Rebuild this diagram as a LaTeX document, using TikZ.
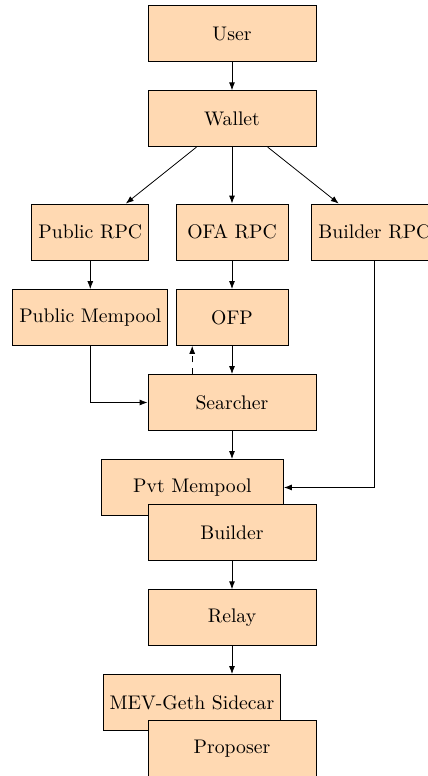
\documentclass[tikz,border=0pt]{standalone}
\usepackage{tikz}
\usetikzlibrary{positioning}
\usetikzlibrary{arrows.meta}
\tikzset{
    mynode/.style = {rectangle, draw=black, align=center, fill=orange!30, minimum width=3cm, minimum height=1cm, text=black},
    mynodes/.style = {rectangle, draw=black, align=center, fill=orange!30, minimum width=2cm, minimum height=1cm, text=black},
    mynodew/.style = {rectangle, draw=black, align=center, fill=orange!30, minimum width=3.25cm, minimum height=1cm, text=black},
    edgen/.style = {-{Latex[length=4pt,width=3pt]}, black},
    edged/.style = {-{Latex[length=4pt,width=3pt]}, black, dashed}, % back to ofp
}

\begin{document}
\begin{tikzpicture}
\path[use as bounding box] (0,0) rectangle (7.636,-13.845);
%
\node[mynode] at (4.139,-0.601) (user) {User};
\node[mynode] at (4.139,-2.118) (wallet) {Wallet};
\node[mynodes] at (1.611,-4.139) (pubrpc) {Public RPC};
\node[mynodes] at (4.139,-4.139) (ofarpc) {OFA RPC};
\node[mynodes] at (6.680,-4.139) (bldrpc) {Builder RPC};
\node[mynodes] at (1.611,-5.664) (pubmem) {Public Mempool};
\node[mynodes] at (4.139,-5.664) (ofp) {OFP};
\node[mynode] at (4.139,-7.181) (searcher) {Searcher};
\node[mynodew] at (3.434,-8.697) (pvtmem) {Pvt Mempool};
\node[mynode] at (4.139,-9.500) (builder) {Builder};
\node[mynode] at (4.139,-11.020) (relay) {Relay};
\node[mynodes] at (3.425,-12.533) (sidecar) {MEV-Geth Sidecar};
\node[mynode] at (4.139,-13.353) (proposer) {Proposer};
%
\draw[edgen] (user) edge (wallet);
\draw[edgen] (wallet) edge (pubrpc);
\draw[edgen] (wallet) edge (ofarpc);
\draw[edgen] (wallet) edge (bldrpc);
\draw[edgen] (pubrpc) edge (pubmem);
\draw[edgen] (ofarpc) edge (ofp);
\draw[edgen] (ofp) edge (searcher);
\draw[edgen] (pubmem.south) |- (searcher.west);
\coordinate (back) at ([xshift=-0.71cm]searcher.north);
\draw[edged] (back) -- (back |- ofp.south);
\draw[edgen] (searcher.south) -- (searcher.south |- pvtmem.north);
\draw[edgen] (bldrpc.south) |- (pvtmem.east);
\draw[edgen] (builder) edge (relay);
\draw[edgen] (relay.south) -- (relay.south |- sidecar.north);

\end{tikzpicture}
\end{document}
